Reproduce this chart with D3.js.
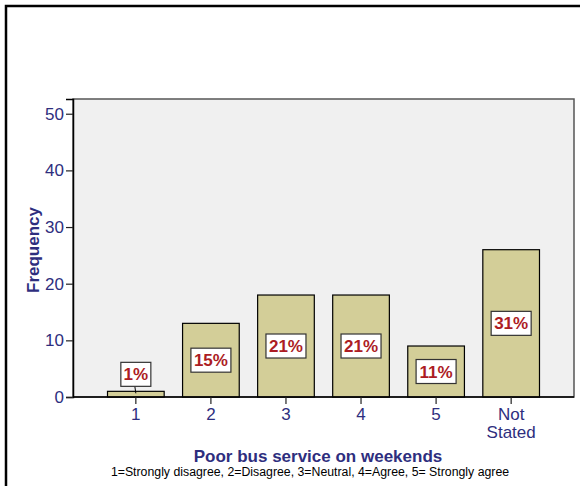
<!DOCTYPE html>
<html><head><meta charset="utf-8">
<script src="https://cdn.jsdelivr.net/npm/d3@7"></script>
<style>body{margin:0;background:#fff}svg{display:block;font-family:Arial,"Liberation Sans",Helvetica,sans-serif}</style>
</head><body><svg id="c" width="580" height="486"></svg>
<script>
const categories = ["1","2","3","4","5","Not Stated"];
const frequencies = [1,13,18,18,9,26];
const percentLabels = ["1%","15%","21%","21%","11%","31%"];
const yTicks = [0,10,20,30,40,50];

const svg = d3.select("#c");
const W = 580, H = 486;
// outer frame
svg.append("rect").attr("x",6).attr("y",6).attr("width",W).attr("height",H).attr("fill","none").attr("stroke","#000").attr("stroke-width",2.5);

const L = 73, R = 574, T = 99, B = 397;
const y = d3.scaleLinear().domain([0,52.6]).range([B,T]);
const x = d3.scaleBand().domain(categories).range([98.5,548.5]).paddingInner(0.245).paddingOuter(0.12);

svg.append("rect").attr("x",L).attr("y",T).attr("width",R-L).attr("height",B-T).attr("fill","#f0f0f0").attr("stroke","#555").attr("stroke-width",1.5);

const navy = "#2e2e7e";
const red = "#ac1c24";

// bars
svg.selectAll("rect.bar").data(frequencies).enter().append("rect").attr("class","bar")
  .attr("x",(d,i)=>x(categories[i])).attr("width",x.bandwidth())
  .attr("y",d=>y(d)).attr("height",d=>B-y(d))
  .attr("fill","#d3ce98").attr("stroke","#000").attr("stroke-width",1.2);

// axes
const yAxis = svg.append("g").attr("transform",`translate(${L},0)`)
  .call(d3.axisLeft(y).tickValues(yTicks).tickSize(7).tickPadding(2));
yAxis.select(".domain").attr("stroke","#000").attr("stroke-width",1.5);
yAxis.selectAll(".tick line").attr("stroke","#222").attr("stroke-width",1.2);
yAxis.selectAll(".tick text").attr("fill",navy).attr("font-size",17).attr("font-family","Arial, Liberation Sans, sans-serif");

const xAxis = svg.append("g").attr("transform",`translate(0,${B})`)
  .call(d3.axisBottom(x).tickSize(7).tickPadding(4).tickSizeOuter(0));
xAxis.select(".domain").attr("stroke","#000").attr("stroke-width",1.5).attr("d",`M${L},0H${R}`);
xAxis.selectAll(".tick line").attr("stroke","#222").attr("stroke-width",1.2);
xAxis.selectAll(".tick text").attr("fill",navy).attr("font-size",17).attr("font-family","Arial, Liberation Sans, sans-serif")
  .each(function(d){
    const t = d3.select(this); const words = d.split(" ");
    t.text(null);
    words.forEach((w,k)=>t.append("tspan").attr("x",0).attr("dy",k===0?"0.68em":"1.1em").text(w));
  });

// percent labels
const lg = svg.append("g");
frequencies.forEach((f,i)=>{
  const cx = x(categories[i]) + x.bandwidth()/2;
  const txt = percentLabels[i];
  const bw = txt.length===2 ? 30 : 40, bh = 24;
  let cy;
  if (B - y(f) < bh + 6) {
    cy = y(f) - 4 - bh/2 - 1;
    lg.append("line").attr("x1",cx).attr("x2",cx-1).attr("y1",y(f)+2).attr("y2",cy+bh/2).attr("stroke","#000").attr("stroke-width",1);
  } else {
    cy = (y(f)+B)/2;
  }
  lg.append("rect").attr("x",cx-bw/2).attr("y",cy-bh/2).attr("width",bw).attr("height",bh)
    .attr("fill","#fff").attr("stroke","#333").attr("stroke-width",1.2);
  lg.append("text").attr("x",cx).attr("y",cy+6).attr("text-anchor","middle")
    .attr("font-size",17).attr("font-weight","bold").attr("fill",red).text(txt);
});

// titles
svg.append("text").attr("transform",`translate(39,250) rotate(-90)`).attr("text-anchor","middle")
  .attr("font-size",17).attr("font-weight","bold").attr("fill",navy).text("Frequency");
svg.append("text").attr("x",318).attr("y",462).attr("text-anchor","middle")
  .attr("font-size",17).attr("font-weight","bold").attr("fill",navy).text("Poor bus service on weekends");
svg.append("text").attr("x",310).attr("y",476).attr("text-anchor","middle")
  .attr("font-size",12.3).attr("fill","#000").text("1=Strongly disagree, 2=Disagree, 3=Neutral, 4=Agree, 5= Strongly agree");
</script></body></html>
